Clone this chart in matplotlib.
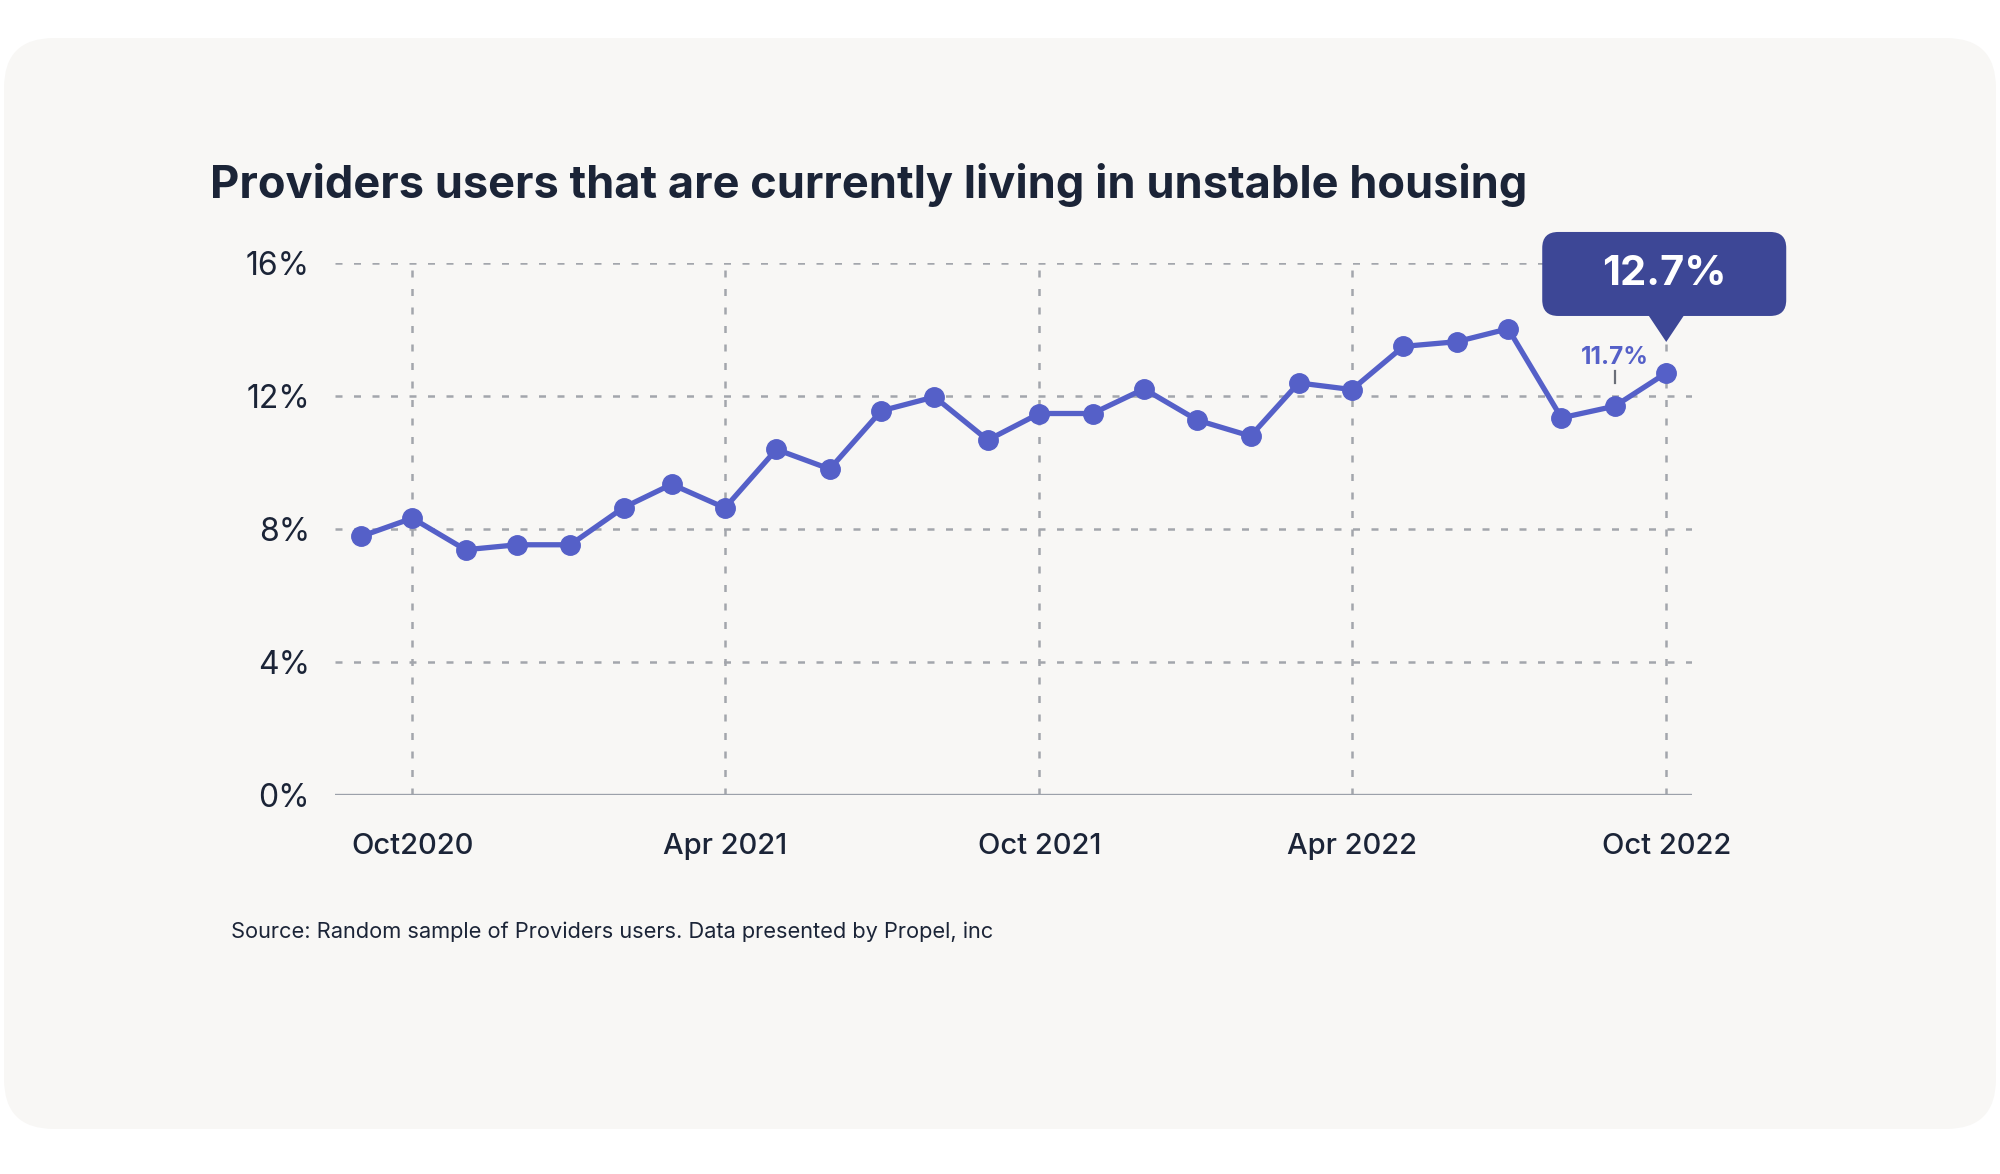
import matplotlib
matplotlib.use("Agg")
import matplotlib.pyplot as plt
import matplotlib.dates as mdates
from matplotlib.patches import FancyBboxPatch, Polygon
from matplotlib.transforms import IdentityTransform
import numpy as np
import datetime as dt

# ---------------- data ----------------
months = [
    "2020-09", "2020-10", "2020-11", "2020-12", "2021-01", "2021-02", "2021-03",
    "2021-04", "2021-05", "2021-06", "2021-07", "2021-08", "2021-09", "2021-10",
    "2021-11", "2021-12", "2022-01", "2022-02", "2022-03", "2022-04", "2022-05",
    "2022-06", "2022-07", "2022-08", "2022-09", "2022-10",
]
values = [7.78, 8.33, 7.38, 7.53, 7.53, 8.65, 9.35, 8.64, 10.40, 9.81, 11.56,
          11.98, 10.68, 11.48, 11.48, 12.22, 11.28, 10.80, 12.40, 12.20, 13.50,
          13.64, 14.03, 11.35, 11.70, 12.70]
tick_months = ["2020-10", "2021-04", "2021-10", "2022-04", "2022-10"]
tick_labels = ["Oct2020", "Apr 2021", "Oct 2021", "Apr 2022", "Oct 2022"]
y_ticks = [0, 4, 8, 12, 16]
y_tick_labels = ["0%", "4%", "8%", "12%", "16%"]
title = "Providers users that are currently living in unstable housing"
source = "Source: Random sample of Providers users. Data presented by Propel, inc"
label_small = "11.7%"
label_big = "12.7%"

# ---------------- style ----------------
LINE = "#5560C8"
CALLOUT = "#3D4796"
DARK = "#1B2437"
GRID = "#A3A6AC"
AXIS = "#9CA1AA"
CARD = "#F8F7F5"
FONT = ["Inter", "DejaVu Sans"]

W, H = 2000, 1174
fig = plt.figure(figsize=(W / 100, H / 100), dpi=100)
fig.patch.set_facecolor("white")

# card background (pixel coords, origin bottom-left)
card = FancyBboxPatch((4 + 50, H - 1129 + 50), 1992 - 100, 1091 - 100,
                      boxstyle="round,pad=50", facecolor=CARD, edgecolor="none",
                      transform=IdentityTransform(), zorder=-10)
fig.patches.append(card)

def to_date(s):
    y, m = s.split("-")
    return dt.datetime(int(y), int(m), 1)

x = [to_date(m) for m in months]
xt = [to_date(m) for m in tick_months]

ax = fig.add_axes([335 / W, 1 - 795 / H, 1357 / W, (795 - 263.3) / H])
ax.set_facecolor("none")
ax.set_zorder(1)
ax.set_xlim(dt.datetime(2020, 8, 17), dt.datetime(2022, 10, 16))
ax.set_ylim(0, 16)

for s in ax.spines.values():
    s.set_visible(False)

# grid lines
for yv in y_ticks[1:]:
    ax.axhline(yv, color=GRID, lw=1.8, dashes=(2.8, 4.6), zorder=1)
for xv in xt:
    ax.axvline(xv, color=GRID, lw=1.8, dashes=(2.8, 4.6), zorder=1)
ax.axhline(0, color=AXIS, lw=2.4, zorder=2)

ax.plot(x, values, color=LINE, lw=3.8, marker="o", markersize=14,
        markerfacecolor=LINE, markeredgecolor=LINE, zorder=4, clip_on=False)

ax.set_yticks(y_ticks)
ax.set_yticklabels(y_tick_labels, fontfamily=FONT, fontsize=23, color=DARK)
ax.set_xticks(xt)
ax.set_xticklabels(tick_labels, fontfamily=FONT, fontsize=21, color=DARK,
                   fontweight="medium")
ax.tick_params(axis="y", length=0, pad=18)
ax.tick_params(axis="x", length=0, pad=27)

# title and source
fig.text(210 / W, 1 - 185 / H, title, fontfamily=FONT, fontsize=32.5,
         fontweight="bold", color=DARK, ha="left", va="center")
fig.text(231 / W, 1 - 932 / H, source, fontfamily=FONT, fontsize=15.7,
         color=DARK, ha="left", va="center")

# annotations anchored to data points
fig.canvas.draw()
px, py = ax.transData.transform((mdates.date2num(x[-1]), values[-1]))
# callout box
bx0, bx1 = px - 124, px + 120
by0, by1 = py + 57, py + 141
r = 16
box = FancyBboxPatch((bx0 + r, by0 + r), (bx1 - bx0) - 2 * r, (by1 - by0) - 2 * r,
                     boxstyle=f"round,pad={r}", facecolor=CALLOUT, edgecolor="none",
                     transform=IdentityTransform(), zorder=6)
fig.patches.append(box)
tri = Polygon([(px - 18, by0 + 1), (px + 18, by0 + 1), (px, py + 31)],
              closed=True, facecolor=CALLOUT, edgecolor="none",
              transform=IdentityTransform(), zorder=6)
fig.patches.append(tri)
fig.text((bx0 + bx1) / 2 / W, (by0 + by1) / 2 / H, label_big, fontfamily=FONT,
         fontsize=30, fontweight="bold", color="white", ha="center",
         va="center", zorder=7)

# small label on the previous point
qx, qy = ax.transData.transform((mdates.date2num(x[-2]), values[-2]))
fig.lines.append(plt.Line2D([qx, qx], [qy + 23, qy + 35], color="#6B6F78", lw=1.6,
                            transform=IdentityTransform(), zorder=5))
fig.text(qx / W, (qy + 49) / H, label_small, fontfamily=FONT, fontsize=17.5,
         fontweight="bold", color=LINE, ha="center", va="center", zorder=7)

fig.savefig("out.png", dpi=100, facecolor=fig.get_facecolor())
